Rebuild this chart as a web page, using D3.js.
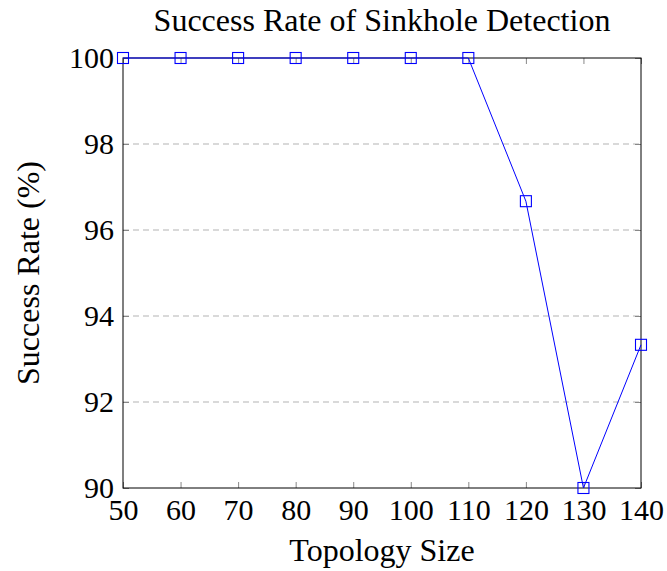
<!DOCTYPE html>
<html>
<head>
<meta charset="utf-8">
<script src="https://cdn.jsdelivr.net/npm/d3@7"></script>
<style>
  body { margin: 0; background: #fff; }
  text { font-family: "Liberation Serif", "Times New Roman", serif; fill: #000; }
</style>
</head>
<body>
<div id="chart"></div>
<script>
// data
const sizes = [50, 60, 70, 80, 90, 100, 110, 120, 130, 140];
const successRate = [100, 100, 100, 100, 100, 100, 100, 96.67, 90, 93.33];
const yTicks = [90, 92, 94, 96, 98, 100];

const W = 667, H = 571;
const margin = { top: 58, right: 26, bottom: 83, left: 123 };
const width = W - margin.left - margin.right;
const height = H - margin.top - margin.bottom;

const svg = d3.select("#chart").append("svg")
  .attr("width", W)
  .attr("height", H);

const g = svg.append("g")
  .attr("transform", "translate(" + margin.left + "," + margin.top + ")");

const x = d3.scaleLinear().domain([50, 140]).range([0, width]);
const y = d3.scaleLinear().domain([90, 100]).range([height, 0]);

// dashed grid
g.append("g")
  .selectAll("line")
  .data(yTicks.filter(d => d > 90 && d < 100))
  .join("line")
  .attr("x1", 0).attr("x2", width)
  .attr("y1", d => y(d)).attr("y2", d => y(d))
  .attr("stroke", "#b3b3b3")
  .attr("stroke-width", 1)
  .attr("stroke-dasharray", "6,4");

// inward ticks on all four sides
const tickLen = 6;
function innerTicks(axis, transform) {
  const a = g.append("g").attr("transform", transform)
    .call(axis.tickSizeInner(tickLen).tickSizeOuter(0).tickFormat(""));
  a.select(".domain").remove();
  a.selectAll(".tick line").attr("stroke", "#888");
}
innerTicks(d3.axisTop(x).tickValues(sizes), "translate(0," + height + ")");
innerTicks(d3.axisBottom(x).tickValues(sizes), "translate(0,0)");
innerTicks(d3.axisRight(y).tickValues(yTicks), "translate(0,0)");
innerTicks(d3.axisLeft(y).tickValues(yTicks), "translate(" + width + ",0)");

// tick labels
const xAxis = g.append("g")
  .attr("transform", "translate(0," + height + ")")
  .call(d3.axisBottom(x).tickValues(sizes).tickSize(0).tickPadding(11));
xAxis.select(".domain").remove();
xAxis.selectAll("text").style("font-size", "30px").style("font-family", "Liberation Serif");

const yAxis = g.append("g")
  .call(d3.axisLeft(y).tickValues(yTicks).tickSize(0).tickPadding(9));
yAxis.select(".domain").remove();
yAxis.selectAll("text").style("font-size", "30px").style("font-family", "Liberation Serif");

// frame
g.append("rect")
  .attr("width", width).attr("height", height)
  .attr("fill", "none").attr("stroke", "#000").attr("stroke-width", 1);

// series
const pts = sizes.map((s, i) => [s, successRate[i]]);
g.append("path")
  .datum(pts)
  .attr("fill", "none")
  .attr("stroke", "#0000ff")
  .attr("stroke-width", 1)
  .attr("d", d3.line().x(d => x(d[0])).y(d => y(d[1])));

const m = 11;
g.append("g")
  .selectAll("rect")
  .data(pts)
  .join("rect")
  .attr("x", d => x(d[0]) - m / 2)
  .attr("y", d => y(d[1]) - m / 2)
  .attr("width", m).attr("height", m)
  .attr("fill", "none")
  .attr("stroke", "#0000ff")
  .attr("stroke-width", 1.1);

// titles
svg.append("text")
  .attr("x", margin.left + width / 2).attr("y", 31)
  .attr("text-anchor", "middle")
  .style("font-size", "32px")
  .text("Success Rate of Sinkhole Detection");

svg.append("text")
  .attr("x", margin.left + width / 2).attr("y", 561)
  .attr("text-anchor", "middle")
  .style("font-size", "32px")
  .text("Topology Size");

svg.append("text")
  .attr("transform", "translate(39," + (margin.top + height / 2) + ") rotate(-90)")
  .attr("text-anchor", "middle")
  .style("font-size", "32px")
  .text("Success Rate (%)");
</script>
</body>
</html>
